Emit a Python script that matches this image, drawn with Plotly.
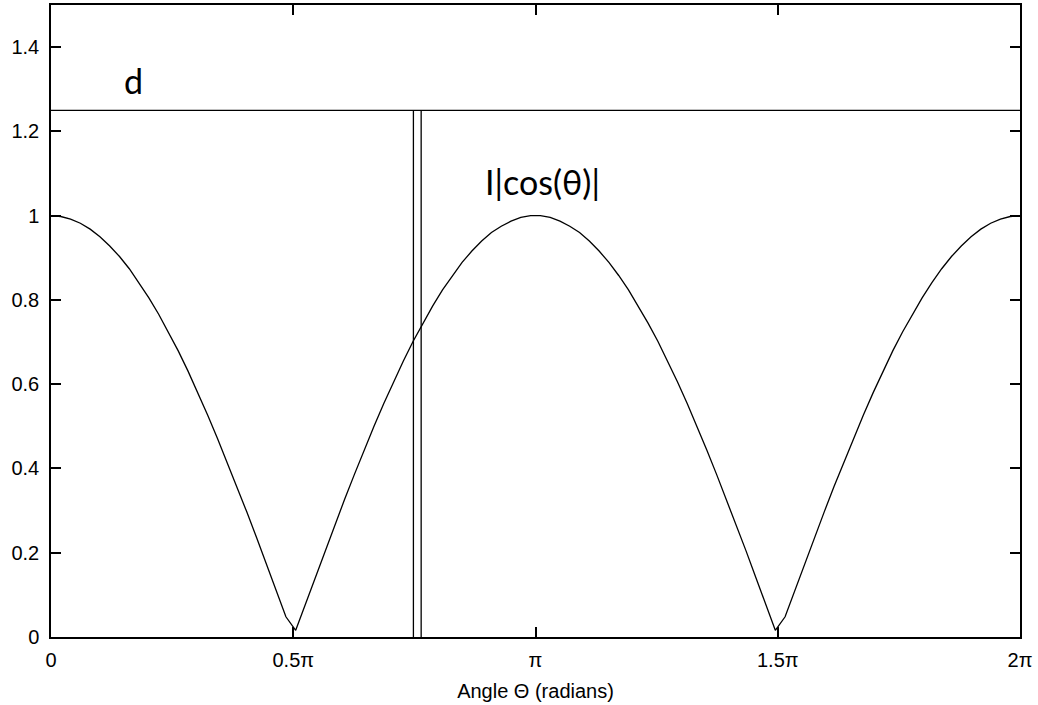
import plotly.graph_objects as go
import numpy as np

# sample positions (in units of pi), 100 samples over [0, 2pi]
x_samples = np.linspace(0, 2, 100)

# |cos(theta)| at each sample
curve_y = [
    1.000, 0.998, 0.992, 0.982, 0.968, 0.950, 0.928, 0.903, 0.874, 0.841,
    0.805, 0.766, 0.724, 0.679, 0.631, 0.580, 0.527, 0.472, 0.415, 0.357,
    0.297, 0.236, 0.174, 0.111, 0.048, 0.016, 0.079, 0.142, 0.205, 0.267,
    0.327, 0.386, 0.444, 0.500, 0.554, 0.606, 0.655, 0.702, 0.745, 0.786,
    0.824, 0.858, 0.889, 0.916, 0.940, 0.960, 0.975, 0.987, 0.996, 1.000,
    1.000, 0.996, 0.987, 0.975, 0.960, 0.940, 0.916, 0.889, 0.858, 0.824,
    0.786, 0.745, 0.702, 0.655, 0.606, 0.554, 0.500, 0.444, 0.386, 0.327,
    0.267, 0.205, 0.142, 0.079, 0.016, 0.048, 0.111, 0.174, 0.236, 0.297,
    0.357, 0.415, 0.472, 0.527, 0.580, 0.631, 0.679, 0.724, 0.766, 0.805,
    0.841, 0.874, 0.903, 0.928, 0.950, 0.968, 0.982, 0.992, 0.998, 1.000,
]

# horizontal line "d"
d_level = 1.25
d_x = [0, 2]
# vertical double line positions (units of pi)
wall_x = [0.748, 0.764]
wall_y = [0, 1.25]

x_tickvals = [0, 0.5, 1, 1.5, 2]
x_ticktext = ["0", "0.5\u03c0", "\u03c0", "1.5\u03c0", "2\u03c0"]
y_tickvals = [0, 0.2, 0.4, 0.6, 0.8, 1, 1.2, 1.4]
y_ticktext = ["0", "0.2", "0.4", "0.6", "0.8", "1", "1.2", "1.4"]

line_style = dict(color="black", width=1.3)

fig = go.Figure()
fig.add_trace(go.Scatter(x=x_samples, y=curve_y, mode="lines", line=line_style,
                         showlegend=False, hoverinfo="skip"))
fig.add_trace(go.Scatter(x=d_x, y=[d_level, d_level], mode="lines", line=line_style,
                         showlegend=False, hoverinfo="skip"))
for wx in wall_x:
    fig.add_trace(go.Scatter(x=[wx, wx], y=wall_y, mode="lines", line=line_style,
                             showlegend=False, hoverinfo="skip"))

fig.add_annotation(x=0.171, y=1.322, text="d", showarrow=False,
                   font=dict(family="Lato", size=34, color="black"))
fig.add_annotation(x=1.015, y=1.08, text="I|cos(\u03b8)|", showarrow=False,
                   font=dict(family="Lato", size=34, color="black"))

axis_common = dict(showline=True, linecolor="black", linewidth=1.5, mirror="ticks",
                   ticks="inside", ticklen=10, tickwidth=1.5, tickcolor="black",
                   showgrid=False, zeroline=False,
                   tickfont=dict(family="Liberation Sans", size=20, color="black"))

fig.update_xaxes(range=[0, 2], tickvals=x_tickvals, ticktext=x_ticktext,
                 ticklabelstandoff=4,
                 title=dict(text="Angle \u0398 (radians)", standoff=14,
                            font=dict(family="Liberation Sans", size=20, color="black")),
                 **axis_common)
fig.update_yaxes(range=[0, 1.5], tickvals=y_tickvals, ticktext=y_ticktext,
                 ticklabelstandoff=6, **axis_common)

fig.update_layout(width=1038, height=705, paper_bgcolor="white", plot_bgcolor="white",
                  margin=dict(l=51, r=18, t=5, b=68, autoexpand=False))

fig.write_html("out.html", config={"displayModeBar": False},
               post_script="document.body.style.margin='0';document.body.style.overflow='hidden';")
